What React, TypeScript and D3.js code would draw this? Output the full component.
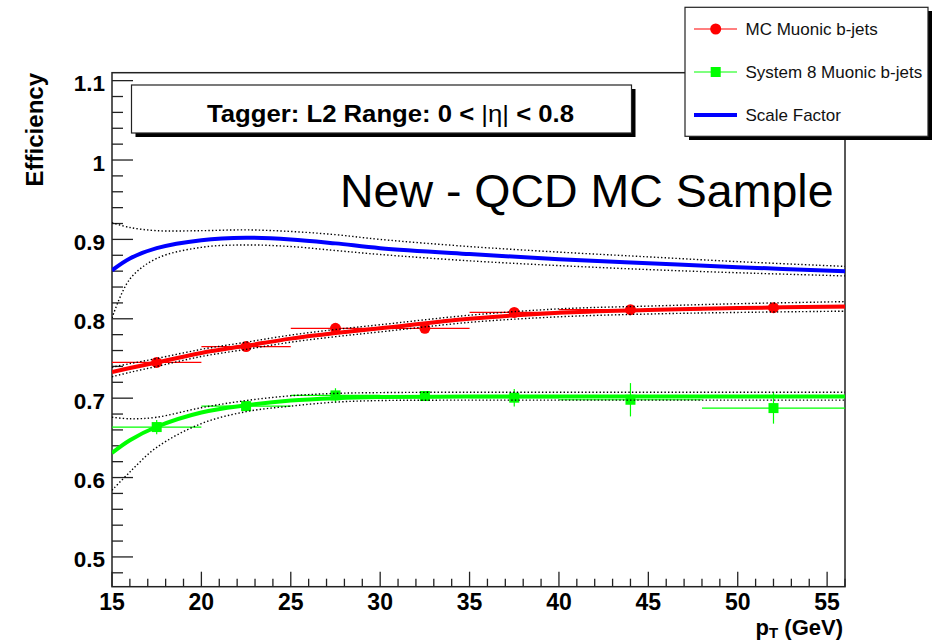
import React from "react";
import * as d3 from "d3";

// Binned efficiency measurements (pT bins in GeV)
const binLow = [15, 20, 25, 30, 35, 40, 48];
const binHigh = [20, 25, 30, 35, 40, 48, 56];
const binCenter = [17.5, 22.5, 27.5, 32.5, 37.5, 44, 52];

const mcEff = [0.745, 0.765, 0.788, 0.788, 0.808, 0.8115, 0.814];
const mcErr = [0.004, 0.003, 0.003, 0.003, 0.003, 0.003, 0.003];

const s8Eff = [0.6636, 0.69, 0.7035, 0.7027, 0.7006, 0.698, 0.6875];
const s8Err = [0.009, 0.006, 0.009, 0.005, 0.011, 0.021, 0.0196];

// Fitted curves and their uncertainty envelopes, sampled in pT
const fitPt = [15, 16, 17.5, 20, 22.5, 25, 27.5, 30, 35, 40, 45, 50, 56];

const mcFit = [0.733, 0.738, 0.745, 0.757, 0.766, 0.775, 0.782, 0.788, 0.8, 0.8075, 0.811, 0.8135, 0.8156];
const mcUpper = [0.739, 0.7435, 0.75, 0.7615, 0.7705, 0.7795, 0.7865, 0.7925, 0.8045, 0.8125, 0.816, 0.819, 0.8216];
const mcLower = [0.727, 0.7325, 0.74, 0.7525, 0.7615, 0.7705, 0.7775, 0.7835, 0.7955, 0.8025, 0.806, 0.808, 0.8096];

const s8Fit = [0.631, 0.647, 0.664, 0.682, 0.691, 0.697, 0.7, 0.7015, 0.702, 0.702, 0.702, 0.702, 0.702];
const s8Upper = [0.676, 0.674, 0.676, 0.688, 0.697, 0.703, 0.706, 0.707, 0.7075, 0.7075, 0.7075, 0.7075, 0.7075];
const s8Lower = [0.584, 0.607, 0.638, 0.668, 0.683, 0.69, 0.695, 0.697, 0.6975, 0.6975, 0.6975, 0.6975, 0.6975];

const sfFit = [0.861, 0.876, 0.889, 0.899, 0.902, 0.9, 0.895, 0.889, 0.8815, 0.875, 0.87, 0.865, 0.86];
const sfUpper = [0.921, 0.915, 0.911, 0.911, 0.912, 0.91, 0.906, 0.9, 0.891, 0.884, 0.878, 0.872, 0.866];
const sfLower = [0.801, 0.85, 0.876, 0.89, 0.893, 0.891, 0.886, 0.881, 0.873, 0.867, 0.862, 0.858, 0.854];

// Axis ticks
const xMajor = [15, 20, 25, 30, 35, 40, 45, 50, 55];
const xTickLabels = ["15", "20", "25", "30", "35", "40", "45", "50", "55"];
const yMajor = [0.5, 0.6, 0.7, 0.8, 0.9, 1.0, 1.1];
const yTickLabels = ["0.5", "0.6", "0.7", "0.8", "0.9", "1", "1.1"];

const legendLabels = ["MC Muonic b-jets", "System 8 Muonic b-jets", "Scale Factor"];

const RED = "#ff0000";
const GREEN = "#00ff00";
const BLUE = "#0000ff";
const FONT = "'Liberation Sans', Arial, Helvetica, sans-serif";

export default function App() {
  const x = d3.scaleLinear().domain([15, 56]).range([112, 845]);
  const y = d3.scaleLinear().domain([0.4625, 1.11]).range([586.7, 72.7]);

  const curve = (vals: number[]) =>
    d3
      .line<number>()
      .x((_, i) => x(fitPt[i]))
      .y((v) => y(v))
      .curve(d3.curveCatmullRom.alpha(0.5))(vals) as string;

  const xMinor = d3.range(15, 57, 1);
  const yMinor = d3.range(24, 56).map((i) => i * 0.02);

  const [x0, x1] = x.range();
  const yTop = y(1.11);
  const yBot = y(0.4625);

  const dotted = { stroke: "#000", strokeWidth: 1.4, strokeDasharray: "1.4 2.2", fill: "none" };

  return (
    <svg
      width={932}
      height={642}
      style={{ position: "absolute", left: 0, top: 0, background: "#fff" }}
      fontFamily={FONT}
    >
      <defs>
        <clipPath id="frameClip">
          <rect x={x0} y={yTop} width={x1 - x0} height={yBot - yTop} />
        </clipPath>
      </defs>

      {/* frame */}
      <rect x={x0} y={yTop} width={x1 - x0} height={yBot - yTop} fill="none" stroke="#222" strokeWidth={1.5} />

      {/* y axis ticks */}
      {yMinor.map((v, i) => {
        const major = Math.abs(v * 10 - Math.round(v * 10)) < 1e-6;
        return (
          <line key={"ym" + i} x1={x0} x2={x0 + (major ? 21 : 11)} y1={y(v)} y2={y(v)} stroke="#222" strokeWidth={1.3} />
        );
      })}
      {yMajor.map((v, i) => (
        <text key={"yl" + i} x={105} y={y(v) + 10.5} textAnchor="end" fontSize={22.5} fontWeight="bold">
          {yTickLabels[i]}
        </text>
      ))}

      {/* x axis ticks */}
      {xMinor.map((v) => {
        const major = v % 5 === 0;
        return (
          <line key={"xm" + v} x1={x(v)} x2={x(v)} y1={yBot} y2={yBot - (major ? 15 : 8)} stroke="#222" strokeWidth={1.3} />
        );
      })}
      {xMajor.map((v, i) => (
        <text key={"xl" + i} x={x(v)} y={609.5} textAnchor="middle" fontSize={23} fontWeight="bold">
          {xTickLabels[i]}
        </text>
      ))}

      {/* axis titles */}
      <text x={843} y={634.5} textAnchor="end" fontSize={22} fontWeight="bold">
        p
        <tspan dy={3.5} fontSize={15}>
          T
        </tspan>
        <tspan dy={-3.5}> (GeV)</tspan>
      </text>
      <text transform="translate(43,73) rotate(-90)" textAnchor="end" fontSize={24} fontWeight="bold">
        Efficiency
      </text>

      <g clipPath="url(#frameClip)">
        {/* measured points: horizontal bin widths and vertical errors */}
        {binCenter.map((c, i) => (
          <g key={"mc" + i}>
            <line x1={x(binLow[i])} x2={x(binHigh[i])} y1={y(mcEff[i])} y2={y(mcEff[i])} stroke={RED} strokeWidth={1.2} />
            <line x1={x(c)} x2={x(c)} y1={y(mcEff[i] - mcErr[i])} y2={y(mcEff[i] + mcErr[i])} stroke={RED} strokeWidth={1.2} />
            <circle cx={x(c)} cy={y(mcEff[i])} r={5.5} fill={RED} />
          </g>
        ))}
        {binCenter.map((c, i) => (
          <g key={"s8" + i}>
            <line x1={x(binLow[i])} x2={x(binHigh[i])} y1={y(s8Eff[i])} y2={y(s8Eff[i])} stroke={GREEN} strokeWidth={1.2} />
            <line x1={x(c)} x2={x(c)} y1={y(s8Eff[i] - s8Err[i])} y2={y(s8Eff[i] + s8Err[i])} stroke={GREEN} strokeWidth={1.2} />
            <rect x={x(c) - 5} y={y(s8Eff[i]) - 5} width={10} height={10} fill={GREEN} />
          </g>
        ))}

        {/* fits */}
        <path d={curve(mcFit)} stroke={RED} strokeWidth={4} fill="none" />
        <path d={curve(s8Fit)} stroke={GREEN} strokeWidth={4} fill="none" />
        <path d={curve(sfFit)} stroke={BLUE} strokeWidth={4} fill="none" />

        {/* fit uncertainty envelopes */}
        <path d={curve(mcUpper)} {...dotted} />
        <path d={curve(mcLower)} {...dotted} />
        <path d={curve(s8Upper)} {...dotted} />
        <path d={curve(s8Lower)} {...dotted} />
        <path d={curve(sfUpper)} {...dotted} />
        <path d={curve(sfLower)} {...dotted} />
      </g>

      {/* title box */}
      <rect x={135.5} y={89} width={500} height={48} fill="#000" />
      <rect x={131.5} y={85} width={500} height={48} fill="#fff" stroke="#222" strokeWidth={1.2} />
      <text
        x={390.5}
        y={121.5}
        textAnchor="middle"
        fontSize={24}
        fontWeight="bold"
        textLength={367}
        lengthAdjust="spacingAndGlyphs"
      >
        Tagger: L2 Range: 0 {"<"} <tspan fontWeight="normal">|η|</tspan> {"<"} 0.8
      </text>

      <text x={340} y={206.5} fontSize={46.5}>
        New - QCD MC Sample
      </text>

      {/* legend */}
      <rect x={689} y={11} width={243} height={129} fill="#000" />
      <rect x={685} y={7.3} width={243} height={129} fill="#fff" stroke="#222" strokeWidth={1.2} />
      {legendLabels.map((label, i) => {
        const ly = 29 + i * 43;
        return (
          <g key={"lg" + i}>
            {i === 0 && (
              <>
                <line x1={694} x2={737} y1={ly} y2={ly} stroke={RED} strokeWidth={1.2} />
                <circle cx={715.7} cy={ly} r={5.5} fill={RED} />
              </>
            )}
            {i === 1 && (
              <>
                <line x1={694} x2={737} y1={ly} y2={ly} stroke={GREEN} strokeWidth={1.2} />
                <rect x={710.7} y={ly - 5} width={10} height={10} fill={GREEN} />
              </>
            )}
            {i === 2 && <line x1={694} x2={737} y1={ly} y2={ly} stroke={BLUE} strokeWidth={4} />}
            <text x={745.5} y={ly + 6} fontSize={17} fill="#111">
              {label}
            </text>
          </g>
        );
      })}
    </svg>
  );
}
